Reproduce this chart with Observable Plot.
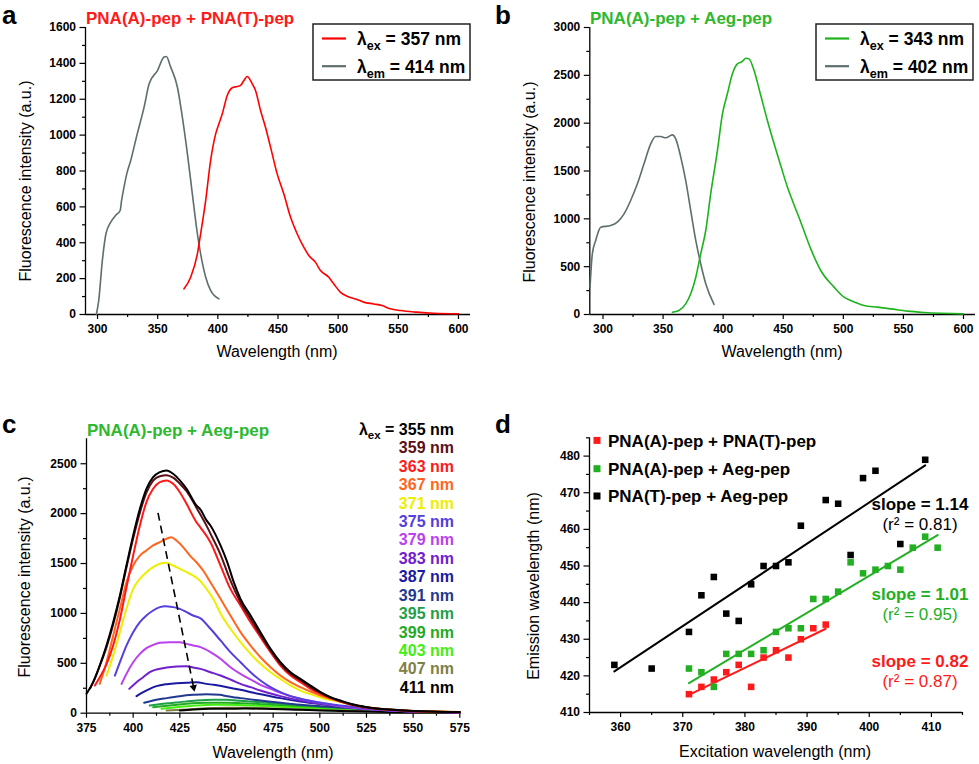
<!DOCTYPE html>
<html><head><meta charset="utf-8">
<script src="https://cdn.jsdelivr.net/npm/d3@7"></script>
<script src="https://cdn.jsdelivr.net/npm/@observablehq/plot@0.6"></script>
<style>
html,body{margin:0;padding:0;background:#fff}
#fig{position:relative;width:979px;height:764px;overflow:hidden;background:#fff}
</style></head>
<body><div id="fig"></div>
<script>
// ---------- Panel a data (wavelength nm, intensity a.u.) ----------
const aExcitation = [[299,0],[301,78],[304,300],[307,450],[311,515],[315,552],[318.8,580],[320,636],[322,710],[324.3,784],[327.6,859],[333,1007],[338.7,1156],[342.9,1286],[349.8,1360],[355.3,1435],[357.2,1438],[360.8,1379],[366.4,1267],[370.5,1100],[374.7,896],[378.8,673],[383,450],[385.7,338],[389.9,208],[394,134],[400.9,87]];
const aEmission = [[371.9,143],[377.4,208],[383,338],[385.7,450],[389.9,636],[394,859],[398.2,1007],[400.9,1063],[403.7,1119],[407.8,1221],[412,1264],[416.1,1271],[418.9,1277],[421.7,1305],[424.4,1327],[428.6,1286],[431.3,1249],[435.5,1137],[439.6,1044],[443.8,933],[449.3,784],[454.8,673],[460.4,543],[465.9,450],[471.4,375],[475.6,329],[481.1,292],[485.3,245],[492.2,208],[496.3,171],[501.8,125],[507.4,102],[515.7,84],[521.2,69],[529.5,59],[536.4,50],[543.3,32],[551.6,22],[565.4,13],[579.2,7],[600,4]];
const aXTicks = [300,350,400,450,500,550,600];
const aXMinor = [325,375,425,475,525,575];
const aYTicks = [0,200,400,600,800,1000,1200,1400,1600];
const aYMinor = [100,300,500,700,900,1100,1300,1500];

// ---------- Panel b data ----------
const bExcitation = [[289.2,286],[291.1,634],[293.9,774],[298.1,913],[306.4,930],[311.9,965],[317.5,1052],[323,1192],[328.6,1366],[334.1,1575],[339.7,1784],[343.8,1861],[348,1861],[352.2,1847],[357.7,1878],[360.5,1836],[364.7,1645],[368.8,1401],[373,1087],[377.2,774],[381.3,530],[385.5,321],[392.4,105]];
const bEmission = [[357.7,24],[363.2,42],[368.8,111],[373,216],[377.2,390],[381.3,634],[385.5,878],[389.6,1261],[395.2,1714],[399.4,2098],[403.5,2307],[407.7,2516],[411.8,2620],[416,2645],[418.8,2679],[421.5,2672],[425.7,2550],[431.3,2289],[436.8,2028],[442.4,1784],[447.9,1557],[453.5,1331],[457.6,1192],[464.6,965],[472.9,686],[481.2,460],[492.3,286],[500.6,181],[506.2,146],[517.3,94],[528.4,77],[539.5,59],[553.4,35],[567.3,21],[600,7]];
const bXTicks = [300,350,400,450,500,550,600];
const bXMinor = [325,375,425,475,525,575];
const bYTicks = [0,500,1000,1500,2000,2500,3000];
const bYMinor = [250,750,1250,1750,2250,2750];

// ---------- Panel c data: emission spectra per excitation wavelength ----------
const c355 = [[375,195],[378.6,311],[382.1,478],[385.7,678],[389.3,912],[392.9,1179],[396.4,1480],[400,1781],[403.6,2048],[407.1,2249],[410.7,2366],[414.3,2416],[417.9,2433],[421.4,2399],[425,2333],[428.6,2249],[433.9,2082],[436.1,2040],[439.3,1932],[441.4,1881],[446.8,1681],[450.4,1514],[453.9,1313],[457.5,1146],[462.9,979],[468.2,812],[473.6,645],[478.9,511],[484.3,411],[489.6,344],[495,277],[500.4,211],[505.7,161],[511,127],[516.4,95],[525.4,60],[543,30],[561,16],[575,11]];
const c359 = [[377,250],[379,330],[382,470],[385.7,660],[389.3,890],[392.9,1160],[396.4,1460],[400,1750],[403.6,2010],[407.1,2210],[410.7,2330],[414.3,2375],[417.9,2385],[421.4,2360],[425,2300],[428.6,2225],[433.9,2060],[439.3,1880],[441.4,1800],[446.8,1590],[452.1,1330],[457.5,1110],[462.9,945],[468.2,785],[473.6,630],[478.9,495],[484.3,395],[489.6,330],[495,262],[500.4,203],[505.7,157],[511,122],[516.4,90],[525.4,57],[543,28],[561,15],[575,10]];
const c363 = [[379.5,277],[382.1,360],[385.7,490],[389.3,680],[392.9,940],[396.4,1260],[400,1580],[403.6,1881],[407.1,2115],[410.7,2249],[414.3,2316],[417.9,2332],[421.4,2299],[425,2215],[428.6,2098],[433.9,1914],[436.1,1860],[441.4,1714],[446.8,1480],[452.1,1246],[457.5,1079],[462.9,912],[468.2,762],[473.6,612],[478.9,478],[484.3,378],[489.6,311],[495,244],[500.4,194],[505.7,151],[511,117],[516.4,88],[525.4,56],[543,28],[561,15],[575,10]];
const c367 = [[382.1,294],[385.7,511],[389.3,779],[392.9,1046],[396.4,1313],[400,1480],[403.6,1580],[407.1,1631],[410.7,1681],[414.3,1714],[417.9,1748],[420.5,1764],[423.2,1731],[426.8,1664],[430.4,1580],[433.9,1513],[437.5,1430],[441.4,1313],[446.8,1146],[452.1,979],[457.5,812],[462.9,678],[468.2,561],[473.6,461],[478.9,378],[484.3,311],[489.6,261],[495,217],[500.4,177],[505.7,144],[511,117],[516.4,90],[525.4,60],[543,30],[561,17],[575,12]];
const c371 = [[385.7,376],[389.3,577],[392.9,811],[396.4,1046],[400,1246],[403.6,1347],[407.1,1413],[410.7,1464],[414.3,1497],[417.9,1507],[421.4,1480],[425,1447],[428.6,1413],[432.1,1380],[435.7,1330],[439.3,1246],[442.9,1146],[446.8,1000],[452.1,846],[457.5,712],[462.9,595],[468.2,495],[473.6,411],[478.9,344],[484.3,278],[489.6,227],[495,191],[500.4,157],[511,111],[525.4,58],[543,29],[561,16],[575,11]];
const c375 = [[390.2,376],[392.9,511],[396.4,678],[400,812],[403.6,912],[407.1,979],[410.7,1029],[414.3,1063],[417,1073],[421.4,1063],[425,1046],[428.6,1013],[432.1,979],[436.1,950],[441.4,846],[446.8,729],[452.1,612],[457.5,511],[462.9,411],[468.2,328],[473.6,261],[478.9,211],[484.3,171],[489.6,144],[500.4,104],[511,77],[525.4,48],[543,25],[561,14],[575,10]];
const c379 = [[393.8,294],[396.4,394],[400,511],[403.6,595],[407.1,652],[410.7,685],[414.3,705],[419.6,712],[425,712],[428.6,695],[432.1,678],[436.1,662],[441.4,612],[446.8,545],[452.1,461],[457.5,394],[462.9,338],[468.2,284],[473.6,244],[478.9,204],[484.3,171],[489.6,144],[500.4,104],[511,70],[525.4,42],[543,22],[561,13],[575,9]];
const c383 = [[397.9,244],[401.8,311],[405.4,361],[408.9,411],[412.5,438],[417.9,458],[423.2,468],[428.6,471],[432.1,458],[436.1,444],[441.4,411],[446.8,378],[452.1,338],[457.5,294],[462.9,261],[468.2,227],[473.6,197],[478.9,171],[489.6,127],[500.4,94],[511,70],[525.4,42],[543,22],[561,12],[575,8]];
const c387 = [[401.8,171],[405.4,211],[408.9,244],[412.5,271],[417.9,291],[423.2,301],[428.6,304],[433.9,311],[439.3,294],[443.2,284],[450.4,261],[457.5,234],[464.6,204],[471.8,177],[478.9,151],[489.6,117],[500.4,91],[511,70],[525.4,45],[543,24],[561,13],[575,9]];
const c391 = [[405.9,104],[410.7,127],[417.9,151],[425,171],[432.1,184],[439.3,191],[446.4,184],[450.4,170],[457.5,151],[468.2,127],[478.9,104],[489.6,84],[500.4,70],[511,57],[525.4,40],[543,22],[561,12],[575,8]];
const c395 = [[408.9,77],[416.1,94],[425,111],[433.9,127],[442.9,134],[450,134],[457.5,125],[468.2,110],[478.9,92],[489.6,75],[500.4,60],[511,48],[525.4,34],[543,20],[561,11],[575,8]];
const c399 = [[410.7,60],[419.6,77],[428.6,94],[439.3,104],[450,104],[457.5,100],[468.2,90],[478.9,78],[489.6,64],[500.4,52],[511,42],[525.4,30],[543,18],[561,10],[575,7]];
const c403 = [[415.2,44],[423.2,60],[433.9,77],[442.9,84],[450,84],[460,80],[470,72],[480,62],[490,52],[500.4,43],[511,35],[525.4,25],[543,15],[561,9],[575,6]];
const c407 = [[417.9,27],[428.6,37],[439.3,50],[450,54],[460,54],[470,50],[480,44],[490,38],[500.4,32],[511,26],[525.4,19],[543,12],[561,7],[575,5]];
const c411 = [[425,27],[432.1,37],[441.1,44],[450,44],[460,47],[470,44],[480,40],[490,34],[500.4,28],[511,23],[525.4,16],[543,10],[561,6],[575,4]];
const cExcitation = [355,359,363,367,371,375,379,383,387,391,395,399,403,407,411];
const cColors = ["#000000","#5a1016","#ff1a1a","#ff6620","#eeee00","#5540dd","#bb40ee","#7020cc","#1a1aa0","#22398f","#1fa048","#22aa22","#44ee10","#7f8044","#000000"];
const cSpectra = [c355,c359,c363,c367,c371,c375,c379,c383,c387,c391,c395,c399,c403,c407,c411];
const cTrend = [{x1: 413.3, y1: 2008, x2: 432.4, y2: 258}];
const cXTicks = [375,400,425,450,475,500,525,550,575];
const cXMinor = [387.5,412.5,437.5,462.5,487.5,512.5,537.5,562.5];
const cYTicks = [0,500,1000,1500,2000,2500];
const cYMinor = [250,750,1250,1750,2250];

// ---------- Panel d data: [excitation nm, emission nm] ----------
const dAT = [[371,415],[373,417],[375,419],[377,421],[379,423],[381,417],[383,425],[385,427],[387,425],[389,430],[391,433],[393,434]];
const dAAeg = [[371,422],[373,421],[375,417],[377,426],[379,426],[381,426],[383,427],[385,432],[387,433],[389,433],[391,441],[393,441],[395,443],[397,451],[399,448],[401,449],[403,450],[405,449],[407,455],[409,458],[411,455]];
const dTAeg = [[359,423],[365,422],[371,432],[373,442],[375,447],[377,437],[379,435],[381,445],[383,450],[385,450],[387,451],[389,461],[393,468],[395,467],[397,453],[399,474],[401,476],[405,456],[409,479]];
const dNames = ["PNA(A)-pep + PNA(T)-pep","PNA(A)-pep + Aeg-pep","PNA(T)-pep + Aeg-pep"];
const dColors = ["#ff1a1a","#22b022","#000000"];
const dSlopes = ["slope = 1.14","slope = 1.01","slope = 0.82"];
const dR2 = ["(r² = 0.81)","(r² = 0.95)","(r² = 0.87)"];
const dXTicks = [360,370,380,390,400,410];
const dXMinor = [355,365,375,385,395,405,415];
const dYTicks = [410,420,430,440,450,460,470,480];
const dYMinor = [415,425,435,445,455,465,475,485];

// ---------- helpers ----------
const FONT = '"Liberation Sans", Arial, sans-serif';
const fig = document.getElementById("fig");
const X = d => d[0], Y = d => d[1];
const plain = d => String(d);
function place(svg, left, top) {
  svg.style.position = "absolute"; svg.style.left = left + "px"; svg.style.top = top + "px";
  fig.appendChild(svg);
}
function axes(xd, yd, xMaj, xMin, yMaj, yMin) {
  return [
    Plot.axisX(xMaj, {tickSize: 5, tickPadding: 5, label: null, tickFormat: plain, fontWeight: "bold", fontSize: 12, strokeWidth: 1.2}),
    Plot.axisX(xMin, {tickSize: 3, tickFormat: () => "", label: null, strokeWidth: 1.2}),
    Plot.axisY(yMaj, {tickSize: 5.5, tickPadding: 4, label: null, tickFormat: plain, fontWeight: "bold", fontSize: 12, strokeWidth: 1.2}),
    Plot.axisY(yMin, {tickSize: 3, tickFormat: () => "", label: null, strokeWidth: 1.2}),
    Plot.ruleX([xd[0]], {strokeWidth: 1.3}),
    Plot.ruleY([yd[0]], {strokeWidth: 1.3})
  ];
}
const style = {background: "transparent", color: "#000", fontFamily: FONT, overflow: "visible"};

// ---------- Panel a ----------
const aXd = [290, 610], aYd = [0, 1600];
place(Plot.plot({
  width: 490, height: 380, marginLeft: 85, marginTop: 27, marginRight: 20, marginBottom: 66,
  x: {domain: aXd}, y: {domain: aYd}, style,
  marks: [
    ...axes(aXd, aYd, aXTicks, aXMinor, aYTicks, aYMinor),
    Plot.line(aExcitation, {x: X, y: Y, stroke: "#5e6d6d", strokeWidth: 1.6, curve: "monotone-x"}),
    Plot.line(aEmission, {x: X, y: Y, stroke: "#ff0000", strokeWidth: 1.6, curve: "monotone-x"})
  ]
}), 0, 0);

// ---------- Panel b ----------
const bXd = [289, 610], bYd = [0, 3000];
place(Plot.plot({
  width: 489, height: 380, marginLeft: 99.3, marginTop: 27, marginRight: 4, marginBottom: 66,
  x: {domain: bXd}, y: {domain: bYd}, style,
  marks: [
    ...axes(bXd, bYd, bXTicks, bXMinor, bYTicks, bYMinor),
    Plot.line(bExcitation, {x: X, y: Y, stroke: "#5e6d6d", strokeWidth: 1.6, curve: "monotone-x"}),
    Plot.line(bEmission, {x: X, y: Y, stroke: "#1db31d", strokeWidth: 1.6, curve: "monotone-x"})
  ]
}), 490, 0);

// ---------- Panel c ----------
const cXd = [375, 575], cYd = [0, 2750];
const cOrder = [10,11,12,13,14,9,8,7,6,5,4,3,2,1,0];
place(Plot.plot({
  width: 490, height: 384, marginLeft: 86, marginTop: 58.3, marginRight: 30.7, marginBottom: 51.3,
  x: {domain: cXd}, y: {domain: cYd}, style,
  marks: [
    ...axes(cXd, cYd, cXTicks, cXMinor, cYTicks, cYMinor),
    ...cOrder.map(i => Plot.line(cSpectra[i], {x: X, y: Y, stroke: cColors[i], strokeWidth: 2, curve: "monotone-x"})),
    Plot.link(cTrend, {x1: "x1", y1: "y1", x2: "x2", y2: "y2", stroke: "#000", strokeWidth: 1.6, strokeDasharray: "8,5"}),
    Plot.dot(cTrend, {x: "x2", y: "y2", symbol: "triangle", r: 2.8, fill: "#000", rotate: 168})
  ]
}), 0, 380);

// ---------- Panel d ----------
const dXd = [355, 415], dYd = [410, 485];
const dSeries = [dAT, dAAeg, dTAeg];
place(Plot.plot({
  width: 489, height: 384, marginLeft: 99, marginTop: 57.3, marginRight: 17, marginBottom: 52,
  x: {domain: dXd}, y: {domain: dYd}, style,
  marks: [
    ...axes(dXd, dYd, dXTicks, dXMinor, dYTicks, dYMinor),
    ...dSeries.map((s, i) => Plot.linearRegressionY(s, {x: X, y: Y, stroke: dColors[i], strokeWidth: 2, ci: 0})),
    ...dSeries.map((s, i) => Plot.dot(s, {x: X, y: Y, symbol: "square", r: 3.7, fill: dColors[i]}))
  ]
}), 490, 380);

// ---------- Overlay text: panel letters, titles, legends, axis titles ----------
const ov = d3.create("svg").attr("width", 979).attr("height", 764)
  .style("position", "absolute").style("left", "0px").style("top", "0px")
  .style("font-family", FONT);
function txt(x, y, s, o = {}) {
  return ov.append("text").attr("x", x).attr("y", y).text(s)
    .attr("font-size", o.size || 16).attr("font-weight", o.weight || "normal")
    .attr("fill", o.fill || "#000").attr("text-anchor", o.anchor || "start")
    .attr("font-family", o.family || FONT)
    .attr("transform", o.rotate ? `rotate(-90 ${x} ${y})` : null);
}
function lam(x, y, sub, rest, size, anchor, fill) {
  const t = ov.append("text").attr("x", x).attr("y", y).attr("font-size", size)
    .attr("font-weight", "bold").attr("fill", fill).attr("text-anchor", anchor);
  t.append("tspan").text("λ");
  t.append("tspan").attr("dy", size * 0.28).attr("font-size", size * 0.72).text(sub);
  t.append("tspan").attr("dy", -size * 0.28).text(rest);
}
const LET = {size: 26, weight: "bold"};
txt(2, 24, "a", LET); txt(495, 24, "b", LET); txt(2, 433, "c", LET); txt(495, 432.5, "d", LET);

// titles
txt(86, 24, "PNA(A)-pep + PNA(T)-pep", {size: 17, weight: "bold", fill: "#ff1a1a"});
txt(590, 24, "PNA(A)-pep + Aeg-pep", {size: 17, weight: "bold", fill: "#2eb82e"});
txt(87, 436, "PNA(A)-pep + Aeg-pep", {size: 17, weight: "bold", fill: "#2eb82e"});

// axis titles
txt(277, 357, "Wavelength (nm)", {anchor: "middle"});
txt(782, 357, "Wavelength (nm)", {anchor: "middle"});
txt(273, 758, "Wavelength (nm)", {anchor: "middle"});
txt(775, 757, "Excitation wavelength (nm)", {anchor: "middle"});
txt(31, 181, "Fluorescence intensity (a.u.)", {anchor: "middle", rotate: true});
txt(535, 182, "Fluorescence intensity (a.u.)", {anchor: "middle", rotate: true});
txt(29.5, 577, "Fluorescence intensity (a.u.)", {anchor: "middle", rotate: true});
txt(539, 586, "Emission wavelength (nm)", {anchor: "middle", rotate: true});

// legends a & b
function legendBox(x0, y0, x1, y1, rows) {
  ov.append("rect").attr("x", x0).attr("y", y0).attr("width", x1 - x0).attr("height", y1 - y0)
    .attr("fill", "#fff").attr("stroke", "#222").attr("stroke-width", 1.5);
  rows.forEach((r, i) => {
    const cy = y0 + 14.5 + i * 27.7;
    ov.append("line").attr("x1", x0 + 9).attr("x2", x0 + 33).attr("y1", cy).attr("y2", cy)
      .attr("stroke", r.color).attr("stroke-width", 2.2);
    lam(x0 + 44, cy + 6.5, r.sub, r.rest, 17.5, "start", "#000");
  });
}
legendBox(313, 24, 470, 80, [{color: "#ff0000", sub: "ex", rest: " = 357 nm"}, {color: "#5e6d6d", sub: "em", rest: " = 414 nm"}]);
legendBox(816, 24, 973, 80, [{color: "#1db31d", sub: "ex", rest: " = 343 nm"}, {color: "#5e6d6d", sub: "em", rest: " = 402 nm"}]);

// legend c
cExcitation.forEach((w, i) => {
  const y = 435 + i * 18.41;
  if (i === 0) lam(454, y, "ex", ` = ${w} nm`, 16, "end", "#000");
  else txt(454, y, `${w} nm`, {size: 16, weight: "bold", fill: cColors[i], anchor: "end"});
});

// legend d
[0, 1, 2].forEach((i, k) => {
  const base = [446.7, 475, 502.3][k];
  ov.append("rect").attr("x", 593.5).attr("y", base - 9.8).attr("width", 7).attr("height", 7).attr("fill", dColors[i]);
  txt(608, base, dNames[i], {size: 17, weight: "bold"});
});
// slope annotations (black, green, red)
[[2, 510, 530], [1, 600, 620], [0, 667.3, 687.3]].forEach(([i, y1, y2]) => {
  txt(920, y1, dSlopes[2 - i], {size: 17, weight: "bold", fill: dColors[i], anchor: "middle"});
  txt(920, y2, dR2[2 - i], {size: 17, fill: dColors[i], anchor: "middle"});
});

fig.appendChild(ov.node());
</script>
</body></html>
